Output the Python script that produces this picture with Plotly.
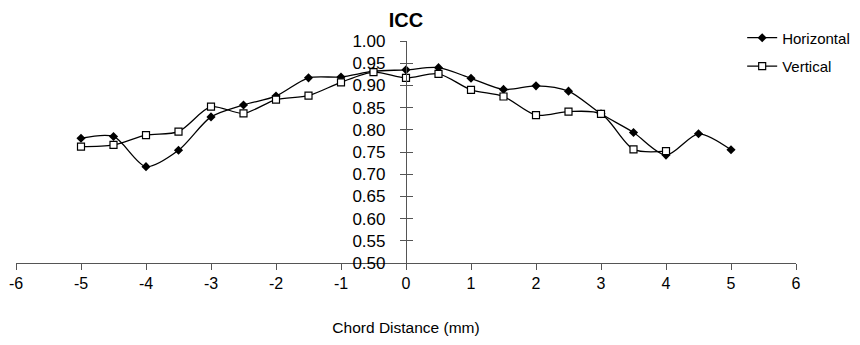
import plotly.graph_objects as go

x_h = [-5, -4.5, -4, -3.5, -3, -2.5, -2, -1.5, -1, -0.5, 0, 0.5, 1, 1.5, 2, 2.5, 3, 3.5, 4, 4.5, 5]
icc_horizontal = [0.781, 0.785, 0.717, 0.754, 0.829, 0.856, 0.876, 0.917, 0.919, 0.932, 0.935,
                  0.940, 0.916, 0.891, 0.899, 0.887, 0.836, 0.794, 0.743, 0.791, 0.755]
x_v = [-5, -4.5, -4, -3.5, -3, -2.5, -2, -1.5, -1, -0.5, 0, 0.5, 1, 1.5, 2, 2.5, 3, 3.5, 4]
icc_vertical = [0.762, 0.766, 0.788, 0.796, 0.852, 0.837, 0.868, 0.877, 0.907, 0.930, 0.917,
                0.926, 0.890, 0.875, 0.833, 0.841, 0.836, 0.756, 0.752]
x_ticks = [-6, -5, -4, -3, -2, -1, 0, 1, 2, 3, 4, 5, 6]
x_tick_labels = ["-6", "-5", "-4", "-3", "-2", "-1", "0", "1", "2", "3", "4", "5", "6"]
y_ticks = [0.50, 0.55, 0.60, 0.65, 0.70, 0.75, 0.80, 0.85, 0.90, 0.95, 1.00]

FONT = "Liberation Sans, Arial, sans-serif"

fig = go.Figure()
fig.add_trace(go.Scatter(
    x=x_h, y=icc_horizontal, name="Horizontal", mode="lines+markers", legendgroup="h",
    line=dict(color="black", width=1.3, shape="spline", smoothing=0.8),
    marker=dict(symbol="diamond", size=7, color="black"),
))
fig.add_trace(go.Scatter(
    x=x_v, y=icc_vertical, name="Vertical", mode="lines+markers", legendgroup="v",
    line=dict(color="black", width=1.3, shape="spline", smoothing=0.8),
    marker=dict(symbol="square", size=7, color="white", line=dict(color="black", width=1.2)),
))
# invisible trace to carry the inner tick marks of the y axis
fig.add_trace(go.Scatter(x=[0], y=[0.5], yaxis="y2", mode="markers",
                         marker=dict(opacity=0), showlegend=False, hoverinfo="skip"))

fig.update_layout(
    width=860, height=345,
    margin=dict(l=8, r=72, t=33, b=90, autoexpand=False),
    paper_bgcolor="white", plot_bgcolor="white",
    font=dict(family=FONT, color="black", size=16),
    title=dict(text="<b>ICC</b>", x=0.5, xref="paper", xanchor="center",
               y=0.965, yanchor="middle", font=dict(family=FONT, size=20)),
    showlegend=True,
    legend=dict(x=0.931, y=1.088, xanchor="left", yanchor="top", bgcolor="rgba(0,0,0,0)",
                font=dict(family=FONT, size=15), tracegroupgap=6,
                itemwidth=30),
    xaxis=dict(range=[-6, 6], tickvals=x_ticks, ticktext=x_tick_labels,
               showgrid=False, zeroline=False, showline=True, linecolor="#555", linewidth=1.2,
               ticks="outside", ticklen=6, tickcolor="#555", tickwidth=1.2,
               tickfont=dict(size=16),
               title=dict(text="Chord Distance (mm)", font=dict(size=15.5), standoff=30),
               automargin=False),
    yaxis=dict(range=[0.5, 1.0], tickvals=y_ticks, tickformat=".2f",
               anchor="free", position=0.5, side="left",
               showgrid=False, zeroline=False, showline=True, linecolor="#555", linewidth=1.2,
               ticks="outside", ticklen=6, tickcolor="#555", tickwidth=1.2,
               ticklabelstandoff=11,
               tickfont=dict(size=17), automargin=False),
    yaxis2=dict(range=[0.5, 1.0], tickvals=y_ticks, overlaying="y", anchor="free",
                position=0.5, side="left", showticklabels=False,
                showgrid=False, zeroline=False, showline=False,
                ticks="inside", ticklen=6, tickcolor="#555", tickwidth=1.2),
)

fig.write_html("out.html")
